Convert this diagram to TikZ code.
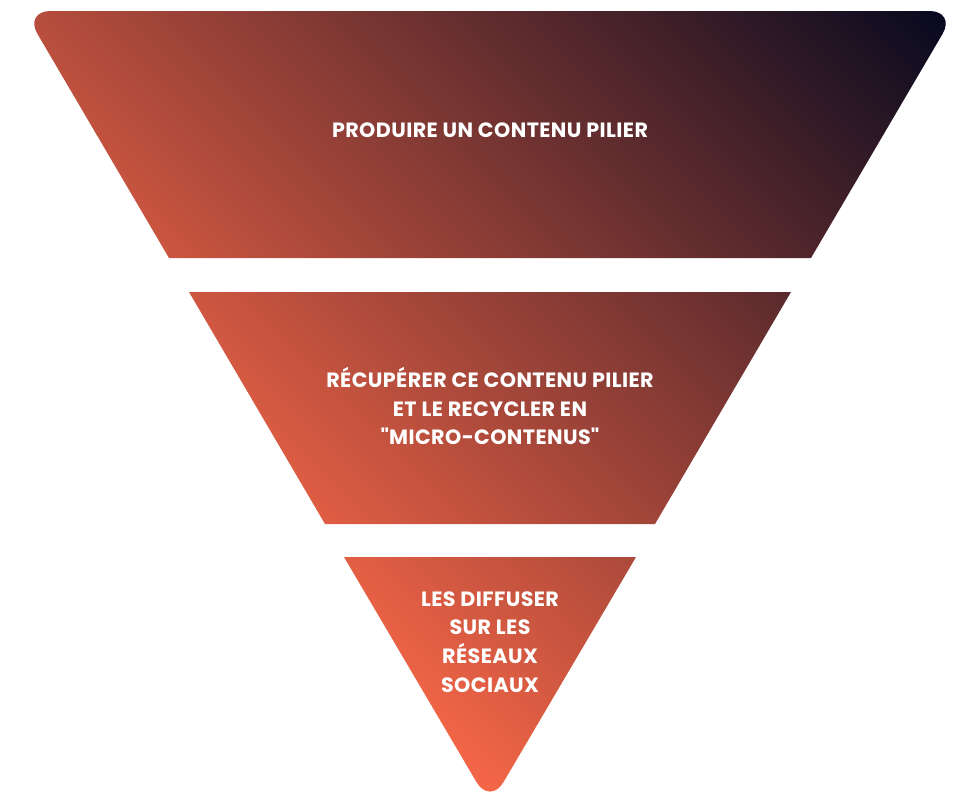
\documentclass[tikz,border=0pt]{standalone}
\usepackage{fontspec}
\setmainfont{Poppins}[LetterSpace=2]
\usepackage{tikz}
\usetikzlibrary{calc}
\definecolor{fondclair}{RGB}{245,102,71}
\definecolor{fondsombre}{RGB}{1,7,30}

\begin{document}
\begin{tikzpicture}[
		x=0.75pt, y=-0.75pt,
		MyLabels/.style={text=white,font=\bfseries\fontsize{15.5}{21.5}\selectfont,align=center},
		MyShade/.style={left color=fondclair,right color=fondsombre}
		]
		
		\useasboundingbox (0,0) rectangle (980,801);
		
		% corners of the three bands (one big triangle, apex at (490,805))
		\coordinate (Ha) at (24,11);   \coordinate (Hb) at (956,11);
		\coordinate (Hc) at (811,258); \coordinate (Hd) at (169,258);
		
		\coordinate (Ma) at (189,292); \coordinate (Mb) at (791,292);
		\coordinate (Mc) at (655,524); \coordinate (Md) at (325,524);
		
		\coordinate (Ba) at (344,557); \coordinate (Bb) at (636,557);
		\coordinate (Bc) at (490,805);
		
		\begin{scope}
		\clip (490,258) -- (Hd) [rounded corners=20pt] -- (Ha) -- (Hb) [sharp corners] -- (Hc) -- cycle
		      (Ma) -- (Mb) -- (Mc) -- (Md) -- cycle
		      (490,557) -- (Bb) [rounded corners=20pt] -- (Bc) [sharp corners] -- (Ba) -- cycle;
		
		% one gradient for all bands, from bottom left to top right
		\begin{scope}[transform canvas={rotate around={45:(490,770)}}]
		\shade[MyShade] (470,-300) rectangle (1370,1300);
		\end{scope}
		\end{scope}
		
		\node[MyLabels] (pilier) at (490,130) {PRODUIRE UN CONTENU PILIER};
		
		\node[MyLabels] (recycler) at (490,406) {RÉCUPÉRER CE CONTENU PILIER\\ET LE RECYCLER EN\\\textquotedbl MICRO-CONTENUS\textquotedbl};
		
		\node[MyLabels] (diffuser) at (490,642) {LES DIFFUSER\\SUR LES\\RÉSEAUX\\SOCIAUX};
		
		\end{tikzpicture}
\end{document}
